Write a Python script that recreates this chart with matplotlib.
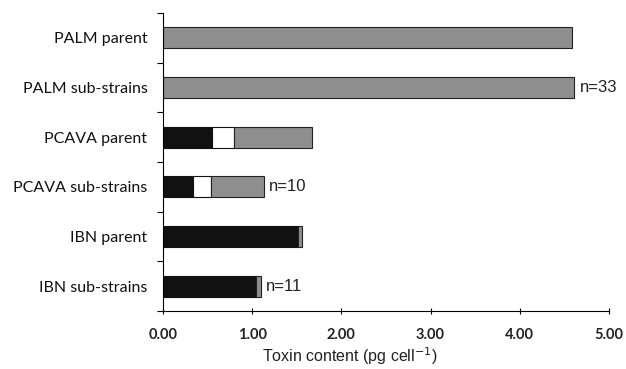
import matplotlib
matplotlib.use("Agg")
import matplotlib.pyplot as plt
import numpy as np

categories = ["PALM parent", "PALM sub-strains", "PCAVA parent",
              "PCAVA sub-strains", "IBN parent", "IBN sub-strains"]
black_seg = [0.0, 0.0, 0.556, 0.34, 1.51, 1.04]
white_seg = [0.0, 0.0, 0.24, 0.20, 0.0, 0.0]
gray_seg = [4.59, 4.61, 0.88, 0.59, 0.05, 0.06]
n_labels = ["", "n=33", "", "n=10", "", "n=11"]
xticks = [0, 1, 2, 3, 4, 5]
xtick_labels = ["0.00", "1.00", "2.00", "3.00", "4.00", "5.00"]

fig = plt.figure(figsize=(6.26, 3.69), dpi=100)
ax = fig.add_axes([0.260, 0.157, 0.713, 0.808])

y = np.arange(len(categories))
h = 0.42
b = np.array(black_seg)
w = np.array(white_seg)
g = np.array(gray_seg)
ax.barh(y, b, height=h, color="#111111", edgecolor="#111111", linewidth=0.8)
ax.barh(y, w, left=b, height=h, color="white", edgecolor="#111111", linewidth=0.8)
ax.barh(y, g, left=b + w, height=h, color="#8e8e8e", edgecolor="#222222", linewidth=0.8)

total = b + w + g
for yi, t, lab in zip(y, total, n_labels):
    if lab:
        ax.text(t + 0.06, yi, lab, va="center", ha="left", fontsize=12,
                family="Liberation Sans", color="#222222")

ax.set_xlim(0, 5)
ax.set_ylim(len(categories) - 0.5, -0.5)
ax.set_xticks(xticks)
ax.set_xticklabels(xtick_labels, family="Lato", fontweight="bold", fontsize=10.5, color="#222222")
ax.set_yticks(y)
ax.set_yticklabels(categories, family="Lato", fontweight="normal", fontsize=11.5, color="#111111")
ax.set_yticks(np.arange(-0.5, len(categories), 1.0), minor=True)
ax.tick_params(axis="y", which="major", length=0, pad=11)
ax.tick_params(axis="y", which="minor", length=4, direction="out", width=0.8)
ax.tick_params(axis="x", which="major", length=5, direction="inout", width=0.8, pad=10)

for s in ["top", "right"]:
    ax.spines[s].set_visible(False)
ax.spines["left"].set_linewidth(0.8)
ax.spines["bottom"].set_linewidth(0.8)

ax.set_xlabel("Toxin content (pg cell$^{-1}$)", family="Liberation Sans", fontsize=11.5,
              color="#222222")
ax.xaxis.set_label_coords(0.42, -0.115)

fig.savefig("out.png", dpi=100)
